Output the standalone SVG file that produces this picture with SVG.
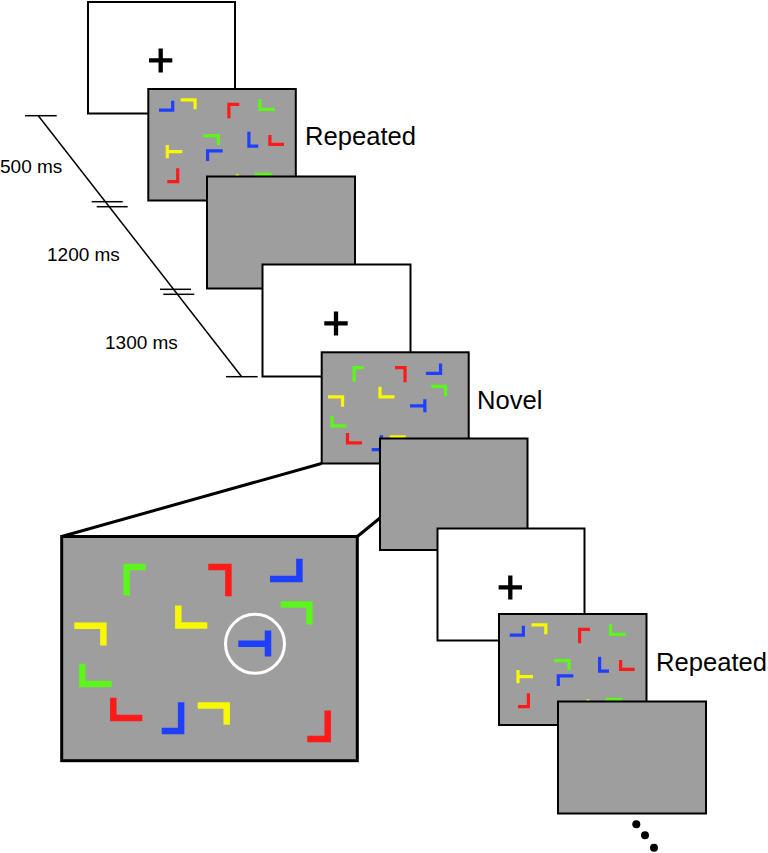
<svg xmlns="http://www.w3.org/2000/svg" xmlns:xlink="http://www.w3.org/1999/xlink" width="768" height="853" viewBox="0 0 768 853">
<style>
.white{fill:#ffffff;stroke:#000;stroke-width:2}
.gray{fill:#9e9e9e;stroke:#000;stroke-width:2}
.big{fill:#9e9e9e;stroke:#000;stroke-width:3}
.plus{stroke:#000;stroke-width:4.3;fill:none}
.tl{stroke:#000;stroke-width:1.5;fill:none}
.conn{stroke:#000;stroke-width:3;fill:none}
.lbl{font-family:"Liberation Sans",Arial,sans-serif;font-size:25.6px;fill:#000}
.tlbl{font-family:"Liberation Sans",Arial,sans-serif;font-size:19px;fill:#000}
.it{fill:none;stroke-linecap:butt;stroke-linejoin:miter}
.b{stroke:#1f3fff}.r{stroke:#ff1a1a}.g{stroke:#5cf51c}.y{stroke:#f8f800}
</style>
<defs>
<g id="rep" class="it" stroke-width="3.2">
<path class="b" d="M24.4 11.7 V21.1 H10.7"/>
<path class="y" d="M32.4 10.9 H46.8 V20.3"/>
<path class="r" d="M91 15.3 H80.6 V29.3"/>
<path class="g" d="M111.6 10.3 V20.4 H126.7"/>
<path class="g" d="M55 46.6 H70.1 V56"/>
<path class="b" d="M100.6 42.7 V57.1 H110"/>
<path class="r" d="M121.6 46 V55.4 H135.7"/>
<path class="y" d="M19 56 V69.3 M19 62.7 H34"/>
<path class="b" d="M74.4 61.9 H59.3 V72"/>
<path class="r" d="M29.4 79.3 V92.7 H19"/>
<path class="y" d="M89 85.3 V100"/>
<path class="g" d="M106.7 85.3 H121.8 V98"/>
</g>
<g id="nov" class="it" stroke-width="6.5">
<path class="g" d="M84 30.5 H64.9 V59"/>
<path class="r" d="M146.6 30.5 H166.7 V59.7"/>
<path class="b" d="M237.7 22.3 V42.4 H208.3"/>
<path class="g" d="M219 68 H247.7 V88"/>
<path class="y" d="M116.6 69 V89 H145.6"/>
<path class="y" d="M12.6 89.3 H41.7 V109"/>
<path class="b" d="M176.6 107.3 H206 M206.3 94 V120"/>
<path class="g" d="M20.6 127.3 V147.4 H50"/>
<path class="r" d="M51.6 161.3 V181.4 H80.6"/>
<path class="b" d="M119.4 165.7 V194.5 H100"/>
<path class="y" d="M136 169 H165 V188.3"/>
<path class="r" d="M266 174 V202.4 H245.6"/>
</g>
</defs>

<g id="timeline">
<line class="tl" x1="25" y1="115.7" x2="56.7" y2="115.7"/>
<line class="tl" x1="38.3" y1="115.7" x2="241.7" y2="376.7"/>
<line class="tl" x1="91.7" y1="201.7" x2="122.7" y2="201.7"/>
<line class="tl" x1="96.7" y1="206.7" x2="127.7" y2="206.7"/>
<line class="tl" x1="160" y1="289.3" x2="191" y2="289.3"/>
<line class="tl" x1="163.3" y1="294.3" x2="194.3" y2="294.3"/>
<line class="tl" x1="226" y1="376.7" x2="257.7" y2="376.7"/>
<text class="tlbl" x="0" y="173.3">500 ms</text>
<text class="tlbl" x="47" y="261">1200 ms</text>
<text class="tlbl" x="105" y="349.3">1300 ms</text>
</g>

<g id="connectors">
<line class="conn" x1="321.5" y1="463.5" x2="61.7" y2="536.5"/>
<line class="conn" x1="380" y1="518" x2="357.3" y2="536.5"/>
</g>

<g id="fix1" transform="translate(88,2)">
<rect class="white" x="0" y="0" width="147" height="111.5"/>
<path class="plus" d="M61 58.3 H84.3 M72.7 46.5 V70.5"/>
</g>
<g id="search1" transform="translate(148.3,89)">
<rect class="gray" x="0" y="0" width="147.5" height="111.5"/>
<use xlink:href="#rep"/>
</g>
<g id="blank1" transform="translate(207,176.5)">
<rect class="gray" x="0" y="0" width="148" height="112"/>
</g>
<g id="fix2" transform="translate(262.5,264.5)">
<rect class="white" x="0" y="0" width="148" height="112"/>
<path class="plus" d="M61.8 58.8 H85.2 M73.5 47 V71"/>
</g>
<g id="search2" transform="translate(321.7,352.3)">
<rect class="gray" x="0" y="0" width="147" height="111.2"/>
<use xlink:href="#nov" transform="scale(0.5)"/>
</g>
<g id="blank2" transform="translate(380,438.5)">
<rect class="gray" x="0" y="0" width="147.5" height="111.5"/>
</g>
<g id="fix3" transform="translate(437.5,528.5)">
<rect class="white" x="0" y="0" width="147" height="112"/>
<path class="plus" d="M61.1 58.8 H84.5 M72.8 47 V71"/>
</g>
<g id="search3" transform="translate(499,614)">
<rect class="gray" x="0" y="0" width="147.5" height="111"/>
<use xlink:href="#rep"/>
</g>
<g id="blank3" transform="translate(558,701.5)">
<rect class="gray" x="0" y="0" width="148" height="112"/>
</g>

<g id="zoom" transform="translate(61.7,536.5)">
<rect class="big" x="0" y="0" width="295.6" height="224.2"/>
<use xlink:href="#nov"/>
<circle cx="193.3" cy="107.3" r="29.5" fill="none" stroke="#ffffff" stroke-width="3"/>
</g>

<g id="labels">
<text class="lbl" x="305" y="145">Repeated</text>
<text class="lbl" x="477" y="409">Novel</text>
<text class="lbl" x="656" y="671">Repeated</text>
</g>

<g id="dots" fill="#000">
<circle cx="636.3" cy="824.3" r="4"/>
<circle cx="645" cy="835.3" r="4"/>
<circle cx="654" cy="847.7" r="4"/>
</g>
</svg>
